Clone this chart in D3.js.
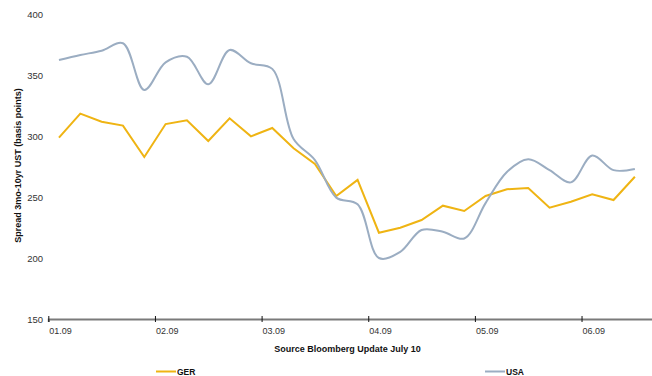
<!DOCTYPE html>
<html>
<head>
<meta charset="utf-8">
<script src="https://cdn.jsdelivr.net/npm/d3@7"></script>
<style>
  html, body { margin: 0; padding: 0; background: #fff; }
  svg { display: block; font-family: "Liberation Sans", Arial, sans-serif; }
</style>
</head>
<body>
<svg id="chart" width="652" height="376"></svg>
<script>
// Weekly observations, Jan–Jun 2009
const periods = d3.range(28);
const monthLabels = ["01.09", "02.09", "03.09", "04.09", "05.09", "06.09"];
const monthStarts = [-0.5, 4.5, 9.5, 14.5, 19.5, 24.5];
const yTicks = [150, 200, 250, 300, 350, 400];

const ger = [298.6, 318.3, 311.7, 308.5, 282.8, 309.8, 312.8, 295.9, 314.5, 299.7,
             306.6, 289.9, 277.0, 250.8, 264.0, 220.7, 224.8, 231.1, 242.9, 238.5,
             250.8, 256.3, 257.4, 241.2, 246.1, 252.2, 247.5, 266.6];
const usa = [362.3, 366.4, 369.9, 376.0, 337.7, 360.4, 365.0, 342.4, 370.5, 359.6,
             355.0, 297.5, 280.3, 249.5, 244.0, 200.0, 205.0, 223.0, 221.5, 216.0,
             245.0, 270.5, 281.0, 272.0, 262.0, 284.0, 272.0, 273.0];

const series = [
  { name: "GER", values: ger, color: "#EFB413", curve: d3.curveLinear },
  { name: "USA", values: usa, color: "#9BADC2", curve: d3.curveCatmullRom.alpha(0.5) }
];

const svg = d3.select("#chart");

const x = d3.scaleLinear().domain([-0.5, 28.3]).range([48.3, 662.6]);
const y = d3.scaleLinear().domain([150, 400]).range([319, 14]);

// y tick labels (no axis line)
const yAxis = d3.axisLeft(y).tickValues(yTicks).tickSize(0).tickPadding(0);
const gy = svg.append("g").attr("transform", "translate(43,0)").call(yAxis);
gy.select(".domain").remove();
gy.selectAll("text")
  .attr("font-size", 9.5).attr("fill", "#333").attr("font-family", "Liberation Sans, Arial, sans-serif");

// x axis
const xAxis = d3.axisBottom(x)
  .tickValues(monthStarts)
  .tickFormat((d, i) => monthLabels[i])
  .tickSizeOuter(0)
  .tickSize(3);
const gx = svg.append("g").attr("transform", "translate(0,319)").call(xAxis);
gx.select(".domain").attr("stroke", "#7a7a7a").attr("stroke-width", 2);
gx.selectAll(".tick line").attr("stroke", "#111").attr("stroke-width", 1).attr("y1", -3).attr("y2", 3);
gx.selectAll(".tick text")
  .attr("text-anchor", "start")
  .attr("dx", 0.5)
  .attr("y", 9)
  .attr("font-size", 9)
  .attr("fill", "#333")
  .attr("font-family", "Liberation Sans, Arial, sans-serif");

// series lines
series.forEach(s => {
  const line = d3.line()
    .x((d, i) => x(periods[i]))
    .y(d => y(d))
    .curve(s.curve);
  svg.append("path")
    .datum(s.values)
    .attr("fill", "none")
    .attr("stroke", s.color)
    .attr("stroke-width", 2)
    .attr("stroke-linejoin", "miter")
    .attr("d", line);
});

// axis titles
svg.append("text")
  .attr("transform", "translate(21,165.5) rotate(-90)")
  .attr("text-anchor", "middle")
  .attr("font-size", 9)
  .attr("font-weight", "bold")
  .attr("fill", "#111")
  .text("Spread 3mo-10yr UST (basis points)");

svg.append("text")
  .attr("x", 347.5).attr("y", 351.5)
  .attr("text-anchor", "middle")
  .attr("font-size", 9)
  .attr("font-weight", "bold")
  .attr("fill", "#111")
  .text("Source Bloomberg Update July 10");

// legend
const legendPos = [156, 485];
series.forEach((s, i) => {
  const g = svg.append("g").attr("transform", `translate(${legendPos[i]},371.5)`);
  g.append("line").attr("x1", 0).attr("x2", 20).attr("y1", 0).attr("y2", 0)
    .attr("stroke", s.color).attr("stroke-width", 2);
  g.append("text").attr("x", 21).attr("y", 3.2)
    .attr("font-size", 8.5).attr("font-weight", "bold").attr("fill", "#111")
    .text(s.name);
});
</script>
</body>
</html>
